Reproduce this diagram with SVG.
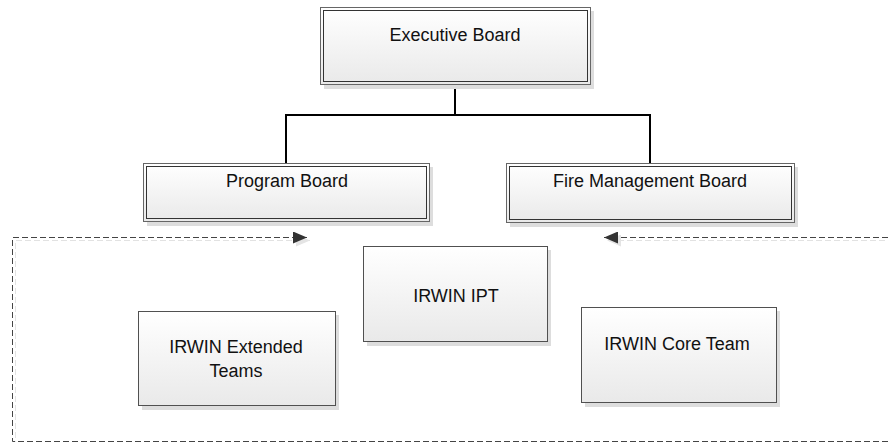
<svg xmlns="http://www.w3.org/2000/svg" width="888" height="442" viewBox="0 0 888 442">
<defs>
<linearGradient id="g" x1="0" y1="0" x2="0" y2="1">
<stop offset="0" stop-color="#ffffff"/>
<stop offset="1" stop-color="#e9e9e9"/>
</linearGradient>
<marker id="ah" viewBox="0 0 14 12" refX="14" refY="6" markerWidth="14" markerHeight="12" markerUnits="userSpaceOnUse" orient="auto-start-reverse">
<path d="M0,0 L14,6 L0,12 Z" fill="#333"/>
</marker>
<marker id="ahs" viewBox="0 0 14 12" refX="14" refY="6" markerWidth="14" markerHeight="12" markerUnits="userSpaceOnUse" orient="auto-start-reverse">
<path d="M0,0 L14,6 L0,12 Z" fill="#e4e4e4"/>
</marker>
</defs>
<style>
.sh{fill:#dddddd;stroke:none}
.o{fill:url(#g);stroke:#666;stroke-width:1}
.i{fill:none;stroke:#333;stroke-width:1}
.b{fill:url(#g);stroke:#505050;stroke-width:1}
.t{font-family:"Liberation Sans",Arial,sans-serif;font-size:18px;fill:#111;text-anchor:middle}
.c{fill:none;stroke:#000;stroke-width:2}
.d{fill:none;stroke:#444;stroke-width:1;stroke-dasharray:6,3}
.ds{fill:none;stroke:#e2e2e2;stroke-width:1;stroke-dasharray:6,3}
</style>
<g id="connectors">
<path class="c" d="M455,85 V115 M286,115 H650 M286,114 V163 M650,114 V163"/>
<path class="ds" d="M310,240.5 H15.5 V444.5 H900 V240.5 H607" marker-start="url(#ahs)" marker-end="url(#ahs)"/>
<path class="d" d="M307,237.5 H12.5 V441.5 H900 V237.5 H604" marker-start="url(#ah)" marker-end="url(#ah)"/>
</g>
<g id="executive-board">
<rect class="sh" x="324" y="11" width="270" height="78"/>
<rect class="o" x="320.5" y="7.5" width="270" height="77"/>
<rect class="i" x="323.5" y="10.5" width="264" height="71"/>
<text class="t" x="455" y="41">Executive Board</text>
</g>
<g id="program-board">
<rect class="sh" x="147" y="167" width="286" height="59"/>
<rect class="o" x="143.5" y="163.5" width="286" height="58"/>
<rect class="i" x="146.5" y="166.5" width="280" height="52"/>
<text class="t" x="287" y="187">Program Board</text>
</g>
<g id="fire-management-board">
<rect class="sh" x="510" y="167" width="288" height="60"/>
<rect class="o" x="506.5" y="163.5" width="288" height="59"/>
<rect class="i" x="509.5" y="166.5" width="282" height="53"/>
<text class="t" x="650" y="187">Fire Management Board</text>
</g>
<g id="irwin-ipt">
<rect class="sh" x="367" y="250" width="184" height="96"/>
<rect class="b" x="363.5" y="246.5" width="184" height="95"/>
<text class="t" x="456" y="302">IRWIN IPT</text>
</g>
<g id="irwin-extended-teams">
<rect class="sh" x="142" y="315" width="197" height="95"/>
<rect class="b" x="138.5" y="311.5" width="197" height="94"/>
<text class="t" x="236" y="353">IRWIN Extended</text>
<text class="t" x="236" y="377">Teams</text>
</g>
<g id="irwin-core-team">
<rect class="sh" x="585" y="311" width="195" height="96"/>
<rect class="b" x="581.5" y="307.5" width="195" height="95"/>
<text class="t" x="677" y="350">IRWIN Core Team</text>
</g>
</svg>
